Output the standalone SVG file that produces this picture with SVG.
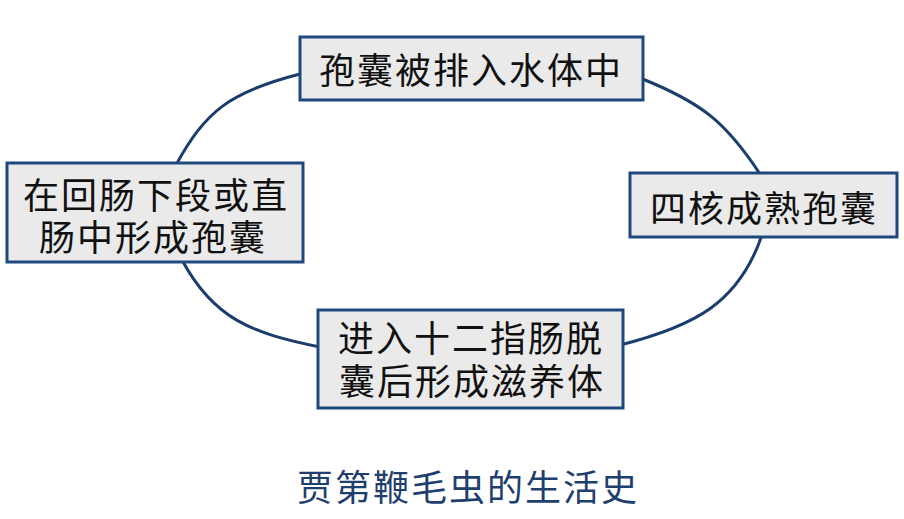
<svg xmlns="http://www.w3.org/2000/svg" width="904" height="519" viewBox="0 0 904 519">
<style>
.box{fill:#EAEAEA;stroke:#1F497D;stroke-width:3}
.arc{fill:none;stroke:#1A3D6E;stroke-width:3}
.t{font-family:"Noto Sans CJK SC","Noto Sans CJK JP",sans-serif;font-size:36px;fill:#111;text-anchor:middle;letter-spacing:2px}
.title{font-family:"Noto Sans CJK SC","Noto Sans CJK JP",sans-serif;font-size:36px;fill:#1F3F6E;text-anchor:middle;letter-spacing:2px}
</style>
<rect width="904" height="519" fill="#FFFFFF"/>
<g id="connectors">
<path class="arc" d="M176,165 C205.6,110.8 230.3,91.8 300,74"/>
<path class="arc" d="M640,78 C702.2,102.6 726,122.6 760,174"/>
<path class="arc" d="M762,235 C738.8,303.1 694.6,326 620,345"/>
<path class="arc" d="M182,260 C213.6,318.8 251.4,333.2 320,347"/>
</g>
<g id="node-top">
<rect class="box" x="300" y="37" width="343" height="63"/>
<text class="t" x="471" y="84">孢囊被排入水体中</text>
</g>
<g id="node-left">
<rect class="box" x="7" y="163" width="296" height="99"/>
<text class="t"><tspan x="156" y="209">在回肠下段或直</tspan><tspan x="153" y="251">肠中形成孢囊</tspan></text>
</g>
<g id="node-right">
<rect class="box" x="630" y="173" width="267" height="64"/>
<text class="t" x="764" y="222">四核成熟孢囊</text>
</g>
<g id="node-bottom">
<rect class="box" x="318" y="310" width="305" height="98"/>
<text class="t"><tspan x="471" y="352">进入十二指肠脱</tspan><tspan x="472" y="395">囊后形成滋养体</tspan></text>
</g>
<g id="title">
<text class="title" x="468" y="501">贾第鞭毛虫的生活史</text>
</g>
</svg>
